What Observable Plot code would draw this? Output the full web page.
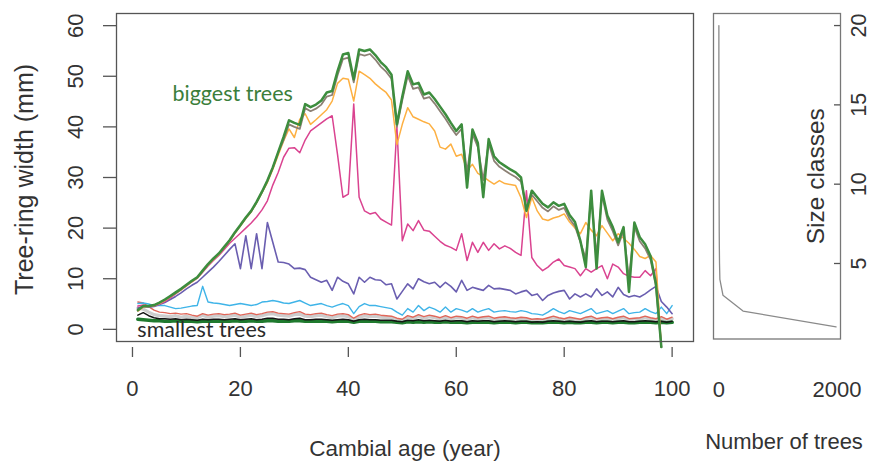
<!DOCTYPE html>
<html><head><meta charset="utf-8">
<script src="https://cdn.jsdelivr.net/npm/d3@7"></script>
<script src="https://cdn.jsdelivr.net/npm/@observablehq/plot@0.6"></script>
<style>
body{margin:0;background:#fff;}
#wrap{position:relative;width:871px;height:464px;overflow:hidden;}
#wrap svg{position:absolute;top:0;overflow:visible;}
</style></head><body><div id="wrap"></div>
<script>
// Cambial age (years)
const ages = [1,2,3,4,5,6,7,8,9,10,11,12,13,14,15,16,17,18,19,20,21,22,23,24,25,26,27,28,29,30,31,32,33,34,35,36,37,38,39,40,41,42,43,44,45,46,47,48,49,50,51,52,53,54,55,56,57,58,59,60,61,62,63,64,65,66,67,68,69,70,71,72,73,74,75,76,77,78,79,80,81,82,83,84,85,86,87,88,89,90,91,92,93,94,95,96,97,98,99,100];

// Tree-ring width (mm) per size class
const biggest = [3.8,4.6,4.6,4.8,5.3,5.9,6.6,7.3,8.0,8.8,
 9.6,10.3,11.6,12.9,14.0,15.0,16.3,17.6,19.2,20.6,
 22.1,23.4,25.2,27.2,29.4,32.0,35.0,38.0,41.3,40.8,
 40.4,44.5,43.9,44.4,45.2,46.8,47.1,51.0,54.3,54.6,
 49.4,55.3,55.0,55.3,54.2,52.8,51.8,50.3,40.5,46.0,
 51.0,48.4,48.7,46.4,46.8,45.5,44.0,42.5,40.8,39.2,
 40.5,28.0,39.5,36.8,26.1,37.6,34.2,33.0,32.3,31.6,
 31.0,30.0,23.4,27.4,26.1,24.8,24.1,25.1,24.4,24.8,
 22.6,21.2,17.5,12.3,27.4,12.0,27.4,22.5,20.2,17.2,
 20.2,7.4,21.1,18.2,16.8,14.5,9.0,-3.5];
const brown = [3.7,4.5,4.5,4.7,5.2,5.8,6.5,7.2,7.9,8.7,
 9.5,10.2,11.5,12.8,13.9,14.9,16.2,17.5,19.1,20.5,
 22.0,23.3,25.1,27.1,29.3,31.9,34.9,37.4,40.5,40.0,
 39.6,43.7,43.1,43.6,44.4,46.0,46.3,50.2,53.4,53.7,
 48.8,54.4,54.1,54.4,53.3,51.9,50.9,49.5,40.0,45.3,
 50.1,47.5,47.8,45.6,45.9,44.6,43.1,41.6,39.9,38.4,
 39.6,31.0,38.6,36.0,29.5,36.7,33.3,32.1,31.4,30.7,
 30.1,29.2,24.0,26.6,25.3,24.0,23.3,24.3,23.6,24.0,
 21.8,20.4,17.2,14.0,26.5,14.5,26.6,21.7,19.4,16.6,
 19.4,10.0,20.3,17.4,16.0,13.8,8.5,-3.5];
const orange = [3.6,4.4,4.5,4.7,5.1,5.7,6.4,7.1,7.8,8.6,
 9.4,10.1,11.4,12.7,13.8,14.8,16.1,17.4,19.0,20.4,
 21.9,23.2,25.0,27.0,29.0,31.6,34.4,37.2,39.6,37.9,
 41.5,42.6,40.5,41.4,42.4,43.4,45.1,48.6,49.6,49.4,
 45.1,51.0,50.3,49.6,48.5,47.6,46.8,45.3,36.5,40.5,
 43.8,42.0,41.5,41.0,40.6,39.2,36.0,35.6,36.6,34.2,
 34.6,31.4,32.6,30.8,30.2,29.4,28.7,29.4,28.8,28.6,
 28.4,26.0,22.1,26.1,23.4,21.8,21.5,22.0,22.3,22.8,
 21.2,20.0,18.9,21.1,19.6,18.5,20.5,19.0,17.5,18.9,
 18.0,17.0,15.8,14.4,14.0,14.6,13.3,-3.5];
const pink = [4.6,4.8,4.5,4.6,5.0,5.5,6.2,7.0,7.8,8.6,
 9.4,10.1,11.3,12.5,13.6,14.6,15.8,17.0,18.0,19.0,
 20.0,21.0,22.2,23.6,25.4,28.5,31.0,34.0,35.8,35.9,
 34.9,37.4,39.2,40.0,40.8,41.6,42.2,34.5,26.1,26.7,
 44.5,26.1,23.4,22.8,23.1,21.8,21.2,20.6,40.0,17.5,
 20.8,19.5,21.5,19.6,19.4,18.4,17.4,16.6,16.2,15.6,
 18.9,13.6,17.2,15.2,17.2,15.6,16.9,15.9,16.5,16.0,
 15.2,14.6,27.4,14.2,12.6,11.6,12.3,13.3,13.9,12.6,
 12.3,12.0,10.6,12.0,11.3,12.0,12.6,10.0,12.9,12.3,
 11.0,10.5,10.3,10.3,11.6,10.6,12.0,-3.5];
const purple = [4.2,4.5,4.4,4.5,4.9,5.3,5.9,6.5,7.2,8.0,
 8.7,9.3,10.3,11.3,12.3,13.4,14.6,15.8,16.9,12.0,
 18.5,12.0,18.9,12.0,21.1,17.2,13.3,13.2,12.9,12.0,
 12.1,11.8,10.3,9.8,9.3,9.7,7.7,10.3,9.5,9.0,
 7.0,10.3,9.3,10.3,9.8,9.7,8.8,9.0,6.0,7.5,
 9.0,8.0,10.0,9.4,9.0,9.3,8.3,9.3,8.5,7.4,
 9.7,7.7,8.3,8.0,7.7,8.7,8.0,8.1,7.9,7.7,
 7.0,7.4,7.7,6.7,7.0,5.7,6.7,7.2,7.5,7.7,
 6.0,7.0,6.4,7.0,6.4,8.0,6.7,7.4,6.4,8.3,
 6.9,6.4,6.7,6.4,7.0,7.8,8.5,5.5,4.4,3.1];
const blue = [5.1,5.2,5.0,4.7,4.7,4.7,4.4,4.1,4.2,4.4,
 4.6,4.7,8.5,5.4,5.2,5.1,4.9,4.7,4.9,5.1,
 4.9,4.7,4.9,5.4,5.5,5.7,5.5,5.2,5.1,5.4,
 5.7,5.2,4.7,4.9,5.1,4.7,4.4,4.8,5.1,4.7,
 3.1,4.5,5.1,4.7,4.7,4.5,4.3,4.1,3.4,2.8,
 4.1,3.4,4.7,3.7,4.4,4.0,3.4,4.4,3.4,4.1,
 3.8,3.4,4.1,3.4,3.8,4.1,3.4,3.6,3.7,3.5,
 3.4,3.7,3.5,3.1,3.0,2.8,3.4,4.1,3.5,3.1,
 3.7,3.4,3.1,3.6,4.1,3.1,3.4,3.7,3.1,3.6,
 4.1,3.1,3.3,3.4,4.1,3.5,3.1,4.4,3.1,4.7];
const red = [5.4,5.2,4.5,3.8,3.4,3.3,3.1,3.2,3.0,3.1,
 2.8,2.6,3.1,2.8,3.0,3.1,2.9,3.0,3.2,2.8,
 3.0,3.2,2.9,3.1,3.4,3.5,3.2,3.1,3.0,3.3,
 3.5,3.0,2.9,3.1,3.2,2.9,2.7,3.0,3.1,2.9,
 2.2,2.8,3.1,2.9,3.0,2.8,2.7,2.6,2.2,2.0,
 2.7,2.4,2.9,2.5,2.8,2.6,2.3,2.7,2.3,2.6,
 2.5,2.2,2.6,2.3,2.5,2.6,2.2,2.4,2.5,2.3,
 2.2,2.4,2.3,2.0,2.1,2.0,2.3,2.6,2.3,2.1,
 2.4,2.2,2.0,2.4,2.6,2.1,2.3,2.4,2.1,2.4,
 2.6,2.1,2.2,2.3,2.6,2.3,2.1,2.5,2.0,2.4];
const lightgray = [4.2,4.0,3.4,2.9,2.7,2.6,2.5,2.7,2.4,2.6,
 2.3,2.2,2.8,2.4,2.6,2.7,2.5,2.6,2.8,2.4,
 2.6,2.8,2.5,2.7,3.0,3.1,2.8,2.7,2.6,2.9,
 3.0,2.6,2.5,2.7,2.8,2.5,2.3,2.6,2.7,2.5,
 1.9,2.4,2.7,2.5,2.6,2.4,2.3,2.3,1.9,1.8,
 2.4,2.1,2.6,2.2,2.5,2.3,2.0,2.4,2.0,2.3,
 2.2,1.9,2.3,2.0,2.2,2.3,1.9,2.1,2.2,2.0,
 1.9,2.1,2.0,1.8,1.9,1.8,2.0,2.3,2.0,1.9,
 2.1,1.9,1.8,2.1,2.3,1.9,2.0,2.1,1.9,2.1,
 2.3,1.9,2.0,2.0,2.3,2.0,1.9,2.2,1.8,2.1];
const black = [2.8,3.3,2.7,2.3,2.1,2.1,2.0,2.1,1.9,2.0,
 1.9,1.8,2.0,1.9,2.0,2.0,1.9,2.0,2.1,1.9,
 2.0,2.1,1.9,2.0,2.2,2.2,2.0,2.0,1.9,2.1,
 2.2,1.9,1.9,2.0,2.0,1.9,1.8,1.9,2.0,1.9,
 1.6,1.9,2.0,1.9,1.9,1.8,1.8,1.8,1.6,1.5,
 1.8,1.7,1.9,1.7,1.8,1.7,1.6,1.8,1.6,1.7,
 1.7,1.5,1.7,1.6,1.7,1.7,1.5,1.6,1.7,1.6,
 1.5,1.6,1.6,1.4,1.5,1.4,1.6,1.7,1.6,1.5,
 1.6,1.5,1.4,1.6,1.7,1.5,1.6,1.6,1.5,1.6,
 1.7,1.5,1.5,1.6,1.7,1.6,1.5,1.6,1.4,1.6];
const smallest = [2.0,1.9,1.8,1.7,1.7,1.6,1.6,1.7,1.6,1.6,
 1.6,1.5,1.6,1.6,1.6,1.6,1.6,1.6,1.7,1.6,
 1.6,1.7,1.6,1.6,1.7,1.7,1.6,1.6,1.6,1.7,
 1.7,1.6,1.6,1.6,1.6,1.6,1.5,1.6,1.6,1.6,
 1.4,1.6,1.6,1.6,1.6,1.5,1.5,1.5,1.4,1.3,
 1.5,1.4,1.5,1.4,1.5,1.4,1.4,1.5,1.4,1.4,
 1.4,1.3,1.4,1.4,1.4,1.4,1.3,1.4,1.4,1.4,
 1.3,1.4,1.4,1.3,1.3,1.3,1.4,1.4,1.4,1.3,
 1.4,1.3,1.3,1.4,1.4,1.3,1.4,1.4,1.3,1.4,
 1.4,1.3,1.3,1.4,1.4,1.4,1.3,1.4,1.3,1.4];

// Size-class distribution
const sizeClasses = [1,2,3,4,5,6,7,8,9,10,11,12,13,14,15,16,17,18,19,20];
const treeCounts = [1985,410,70,18,12,9,7,6,5,4,4,3,3,2,2,2,1,1,1,1];

// Tick labels
const xTicks = [0,20,40,60,80,100];
const yTicks = [0,10,20,30,40,50,60];
const classTicks = [5,10,15,20];
const countTicks = [0,2000];

// Styling of series (drawing order bottom -> top)
const seriesStyle = [
  {values: lightgray, color:"#cdcdcd", width:3.2},
  {values: red, color:"#e0675a", width:1.4},
  {values: smallest, color:"#1f7a2e", width:3.6},
  {values: black, color:"#151515", width:1.5},
  {values: blue, color:"#3fb4e8", width:1.4},
  {values: purple, color:"#6a5eb0", width:1.6},
  {values: pink, color:"#da4390", width:1.5},
  {values: orange, color:"#fdb042", width:1.5},
  {values: brown, color:"#8c8074", width:1.8},
  {values: biggest, color:"#3d8d3e", width:2.5}
];
const annotations = [
  {text:"biggest trees", x:7.42, y:45.2, color:"#3b7e3b"},
  {text:"smallest trees", x:0.9, y:-1.6, color:"#2a2a2a"}
];

const font = "Liberation Sans, Arial, Helvetica, sans-serif";
const lineMarks = seriesStyle.map(s =>
  Plot.line(s.values.map((v,i)=>({age: ages[i], w: v})), {x:"age", y:"w", stroke:s.color, strokeWidth:s.width, strokeLinejoin:"round"})
);

const main = Plot.plot({
  width: 700, height: 464,
  marginLeft: 116, marginRight: 7, marginTop: 13, marginBottom: 123,
  x: {domain: [-2.96, 103.96]},
  y: {domain: [-2.4, 62.4]},
  style: {fontFamily: font, color: "#333", background: "transparent", overflow: "visible"},
  marks: [
    ...lineMarks,
    Plot.text(annotations, {x:"x", y:"y", text:"text", fill:"color", textAnchor:"start", lineAnchor:"bottom", fontSize:21.5, fontFamily:"Lato, sans-serif"}),
    Plot.frame({stroke:"#555", strokeWidth:1.3}),
    Plot.axisX(xTicks, {tickSize:10, dy:6, tickPadding:23, fontSize:22, label:null, stroke:"#555", strokeWidth:1.3}),
    Plot.axisY(yTicks, {tickSize:13, tickPadding:21, tickRotate:-90, fontSize:22, label:null, stroke:"#555", strokeWidth:1.3}),
    Plot.text(["Cambial age (year)"], {frameAnchor:"bottom", dy:114, textAnchor:"middle", lineAnchor:"bottom", fontSize:22.5}),
    Plot.text(["Tree-ring width (mm)"], {frameAnchor:"left", dx:-84, dy:2, rotate:-90, textAnchor:"middle", lineAnchor:"bottom", fontSize:25})
  ]
});
main.style.left = "0px";

const side = Plot.plot({
  width: 171, height: 464,
  marginLeft: 13, marginRight: 31, marginTop: 13, marginBottom: 125.5,
  x: {domain: [-90, 2060]},
  y: {domain: [0.24, 20.76]},
  style: {fontFamily: font, color: "#333", background: "transparent", overflow: "visible"},
  marks: [
    Plot.line(sizeClasses.map((c,i)=>({c, n: treeCounts[i]})), {x:"n", y:"c", stroke:"#8a8a8a", strokeWidth:1.3}),
    Plot.frame({stroke:"#777", strokeWidth:1.3}),
    Plot.tickY(classTicks, {y: d=>d, insetLeft:121, stroke:"#555", strokeWidth:1.3}),
    Plot.axisY(classTicks, {anchor:"right", tickSize:0, tickPadding:25, tickRotate:-90, fontSize:21.5, label:null}),
    Plot.axisX(countTicks, {tickSize:0, tickPadding:42.5, fontSize:22, label:null, tickFormat: d => String(d)}),
    Plot.text(["Size classes"], {frameAnchor:"right", dx:-16.5, rotate:-90, textAnchor:"middle", lineAnchor:"bottom", fontSize:24.5}),
    Plot.text(["Number of trees"], {frameAnchor:"bottom", dx:7, dy:109.5, textAnchor:"middle", lineAnchor:"bottom", fontSize:22})
  ]
});
side.style.left = "700px";

const wrap = document.getElementById("wrap");
wrap.appendChild(main);
wrap.appendChild(side);
</script></body></html>
